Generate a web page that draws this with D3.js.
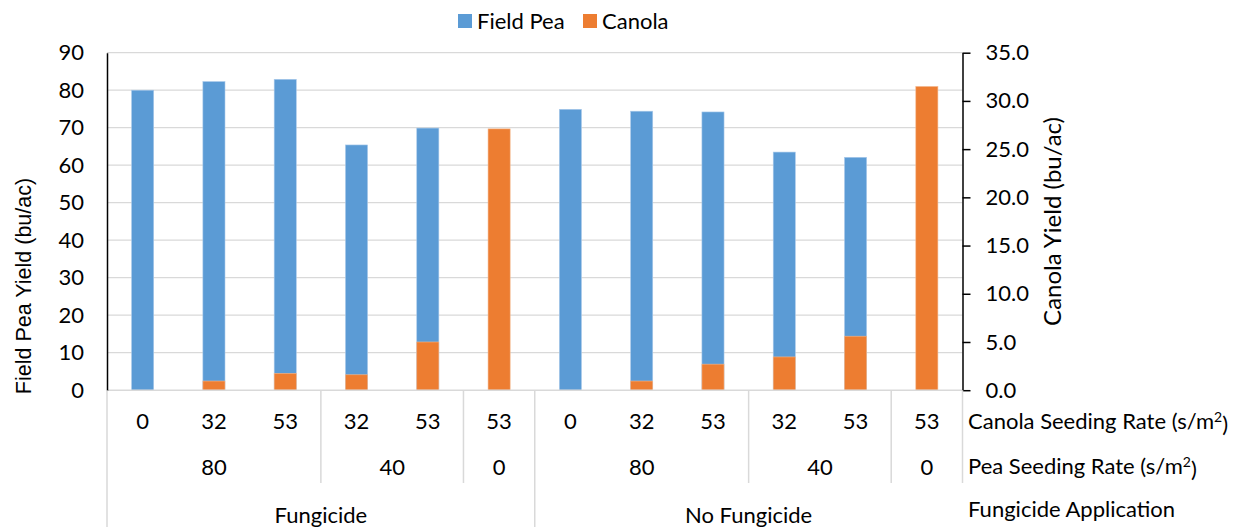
<!DOCTYPE html>
<html>
<head>
<meta charset="utf-8">
<script src="https://cdn.jsdelivr.net/npm/d3@7"></script>
<style>
  html, body { margin: 0; padding: 0; background: #fff; }
  svg { display: block; }
  text { font-family: Lato, "Open Sans", sans-serif; fill: #000; }
</style>
</head>
<body>
<svg id="chart" width="1236" height="527"></svg>
<script>
// Per-plot categories (three-level axis)
const canolaRate = ["0", "32", "53", "32", "53", "53", "0", "32", "53", "32", "53", "53"];
const peaRate    = ["80", "80", "80", "40", "40", "0", "80", "80", "80", "40", "40", "0"];
const fungicide  = ["Fungicide", "Fungicide", "Fungicide", "Fungicide", "Fungicide", "Fungicide",
                    "No Fungicide", "No Fungicide", "No Fungicide", "No Fungicide", "No Fungicide", "No Fungicide"];

// Yields (bu/ac)
const peaYield    = [80.0, 82.3, 82.9, 65.4, 69.9, 0, 74.9, 74.4, 74.2, 63.5, 62.1, 0];
const canolaYield = [0, 0.95, 1.75, 1.6, 5.0, 27.1, 0, 0.95, 2.7, 3.45, 5.6, 31.5];

// Axis ticks
const peaTicks    = [0, 10, 20, 30, 40, 50, 60, 70, 80, 90];
const canolaTicks = [0, 5, 10, 15, 20, 25, 30, 35];

const seriesNames  = ["Field Pea", "Canola"];
const seriesColors = ["#5B9BD5", "#ED7D31"];
const rowTitles = ["Canola Seeding Rate (s/m", "Pea Seeding Rate (s/m", "Fungicide Application"];

const svg = d3.select("#chart");
const plotL = 107, plotR = 962.5, plotT = 52.7, plotB = 390.2;
const row2 = 483, row3 = 540;
const fs = "22px";

const x = d3.scaleBand().domain(d3.range(canolaRate.length)).range([plotL, plotR]).paddingInner(0).paddingOuter(0);
const yPea = d3.scaleLinear().domain([0, 90]).range([plotB, plotT]);
const yCan = d3.scaleLinear().domain([0, 35]).range([plotB, plotT]);
const barW = x.bandwidth() * 0.31;

// gridlines
svg.append("g").selectAll("line").data(peaTicks.filter(d => d > 0)).join("line")
  .attr("x1", plotL).attr("x2", plotR)
  .attr("y1", d => yPea(d)).attr("y2", d => yPea(d))
  .attr("stroke", "#d9d9d9").attr("stroke-width", 1.3);

// field pea bars
svg.append("g").selectAll("rect").data(peaYield).join("rect")
  .attr("x", (d, i) => x(i) + x.bandwidth() / 2 - barW / 2)
  .attr("width", barW)
  .attr("y", d => yPea(d))
  .attr("height", d => yPea(0) - yPea(d))
  .attr("fill", seriesColors[0])
  .attr("stroke", "#a9c9ea").attr("stroke-width", d => d > 0 ? 0.6 : 0);

// canola bars (secondary axis, drawn over pea bars)
svg.append("g").selectAll("rect").data(canolaYield).join("rect")
  .attr("x", (d, i) => x(i) + x.bandwidth() / 2 - barW / 2)
  .attr("width", barW)
  .attr("y", d => yCan(d))
  .attr("height", d => yCan(0) - yCan(d))
  .attr("fill", seriesColors[1])
  .attr("stroke", "#f4b990").attr("stroke-width", d => d > 0 ? 0.6 : 0);

// category axis baseline
svg.append("line").attr("x1", plotL).attr("x2", plotR).attr("y1", plotB).attr("y2", plotB)
  .attr("stroke", "#d9d9d9").attr("stroke-width", 1.5);

// left axis
const gL = svg.append("g").attr("transform", `translate(${plotL},0)`)
  .call(d3.axisLeft(yPea).tickValues(peaTicks).tickSize(0).tickPadding(23).tickFormat(d3.format("d")));
gL.select(".domain").attr("stroke", "#000").attr("stroke-width", 1.5);
gL.selectAll("text").style("font-family", "Lato, sans-serif").style("font-size", fs).attr("fill", "#000");

// right axis
const gR = svg.append("g").attr("transform", `translate(${plotR},0)`)
  .call(d3.axisRight(yCan).tickValues(canolaTicks).tickSize(8).tickSizeOuter(0).tickPadding(15).tickFormat(d3.format(".1f")));
gR.select(".domain").attr("stroke", "#000").attr("stroke-width", 1.5);
gR.selectAll(".tick line").attr("stroke", "#000").attr("stroke-width", 1.5);
gR.selectAll("text").style("font-family", "Lato, sans-serif").style("font-size", fs).attr("fill", "#000");

// consecutive runs of equal labels within each fungicide group
function runs(arr) {
  const out = [];
  arr.forEach((v, i) => {
    const last = out[out.length - 1];
    if (last && last.v === v && fungicide[i] === fungicide[last.start]) last.end = i;
    else out.push({ v, start: i, end: i });
  });
  return out;
}
svg.append("g").selectAll("text").data(canolaRate).join("text")
  .attr("x", (d, i) => x(i) + x.bandwidth() / 2).attr("y", 421).attr("dy", "0.35em")
  .attr("text-anchor", "middle").style("font-size", fs).text(d => d);

const peaRuns = runs(peaRate);
svg.append("g").selectAll("text").data(peaRuns).join("text")
  .attr("x", d => (x(d.start) + x(d.end) + x.bandwidth()) / 2).attr("y", 467).attr("dy", "0.35em")
  .attr("text-anchor", "middle").style("font-size", fs).text(d => d.v);

const fRuns = runs(fungicide);
svg.append("g").selectAll("text").data(fRuns).join("text")
  .attr("x", d => (x(d.start) + x(d.end) + x.bandwidth()) / 2).attr("y", 515).attr("dy", "0.35em")
  .attr("text-anchor", "middle").style("font-size", fs).text(d => d.v);

// separators
const sep = svg.append("g").attr("stroke", "#d9d9d9").attr("stroke-width", 1.5);
peaRuns.forEach(r => {
  const xe = x(r.end) + x.bandwidth();
  if (xe < plotR - 1 && !fRuns.some(f => Math.abs(x(f.end) + x.bandwidth() - xe) < 0.5))
    sep.append("line").attr("x1", xe).attr("x2", xe).attr("y1", plotB).attr("y2", row2);
});
fRuns.forEach(r => {
  const xs = x(r.start);
  sep.append("line").attr("x1", xs).attr("x2", xs).attr("y1", plotB).attr("y2", row3);
});
sep.append("line").attr("x1", plotR).attr("x2", plotR).attr("y1", plotB).attr("y2", row2);

// row titles
const rowY = [421, 466, 509];
rowTitles.forEach((t, i) => {
  const tx = svg.append("text").attr("x", 968).attr("y", rowY[i]).attr("dy", "0.35em").style("font-size", fs);
  tx.append("tspan").text(t);
  if (i < 2) {
    tx.append("tspan").attr("dy", "-0.45em").style("font-size", "14px").text("2");
    tx.append("tspan").attr("dy", "0.45em").text(")");
  }
});

// axis titles
svg.append("text")
  .attr("transform", "translate(23,286) rotate(-90)")
  .attr("text-anchor", "middle").attr("dy", "0.35em")
  .style("font-family", "'Liberation Sans', Arial, sans-serif").style("font-size", "21.5px")
  .text("Field Pea Yield (bu/ac)");
svg.append("text")
  .attr("transform", `translate(1053,${(plotT + plotB) / 2}) rotate(-90)`)
  .attr("text-anchor", "middle").attr("dy", "0.35em")
  .style("font-size", "24px")
  .text("Canola Yield (bu/ac)");

// legend
const leg = svg.append("g");
const legX = [458, 583];
seriesNames.forEach((n, i) => {
  leg.append("rect").attr("x", legX[i]).attr("y", 14).attr("width", 14).attr("height", 14).attr("fill", seriesColors[i]);
  leg.append("text").attr("x", legX[i] + 19).attr("y", 21).attr("dy", "0.35em").style("font-size", fs).text(n);
});
</script>
</body>
</html>
